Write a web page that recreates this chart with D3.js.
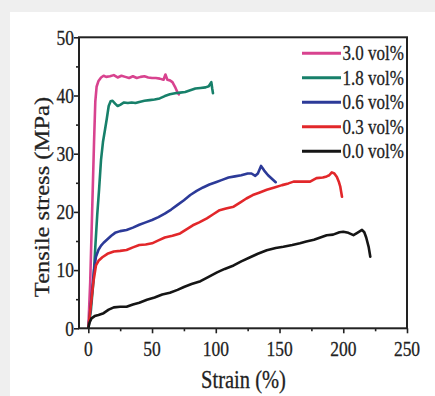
<!DOCTYPE html>
<html>
<head>
<meta charset="utf-8">
<script src="https://cdn.jsdelivr.net/npm/d3@7"></script>
<style>
  html, body { margin: 0; padding: 0; background: #efefef; }
  svg { display: block; }
  text { font-family: "Liberation Serif", "Times New Roman", serif; fill: #222; stroke: #222; stroke-width: 0.25px; }
</style>
</head>
<body>
<svg id="chart" width="435" height="396"></svg>
<script>
// Stress-strain curves for each filler loading: [strain %, stress MPa]
const series = ["3.0 vol%", "1.8 vol%", "0.6 vol%", "0.3 vol%", "0.0 vol%"];
const colors = ["#d8438f", "#17806a", "#2c3a98", "#e2272a", "#151515"];

const curve30 = [[0,0],[1.5,8],[3,20],[4.5,32],[5.5,39],[6.5,41.5],[8,42.5],[10,43.1],[12,43.4],[14,43.2],
  [17,43.3],[20,43.5],[23,43.1],[26,43.4],[29,43.2],[32,43.0],[35,43.3],[38,43.0],[41,43.2],[44,43.3],
  [47,43.1],[50,43.0],[53,43.0],[56,42.9],[59,42.7],[60.5,43.6],[62,42.7],[64,42.6],[66,42.3],[68,41.5],
  [70,40.5],[71,40.2]];
const curve18 = [[0,0],[2,3],[4,8],[5.5,14],[7,19.5],[8.5,24],[10,29],[11.5,32],[13,34],[14.5,36],
  [16,38.2],[17.5,39],[19,39.1],[21,38.6],[23,38.2],[25,38.4],[28,38.8],[31,38.7],[34,38.8],[37,38.7],
  [40,38.9],[44,39.1],[48,39.2],[52,39.3],[56,39.5],[60,39.9],[64,40.2],[68,40.4],[72,40.5],[76,40.6],
  [80,40.9],[84,41.2],[88,41.3],[92,41.4],[94.5,41.6],[96.5,42.3],[97.2,41.2],[97.8,40.4]];
const curve06 = [[0,0],[1.5,3],[3,6.5],[4.5,10],[6,12.3],[8,13.5],[10,14.2],[12,14.7],[15,15.3],[18,15.9],
  [21,16.4],[25,16.7],[30,16.9],[35,17.3],[40,17.8],[45,18.2],[50,18.6],[55,19.1],[60,19.7],[65,20.4],
  [70,21.2],[75,22.0],[80,22.9],[85,23.6],[90,24.2],[95,24.7],[100,25.1],[105,25.5],[110,25.9],[115,26.1],
  [120,26.3],[125,26.6],[128,26.6],[131,26.2],[133,26.6],[135.5,27.9],[138,27.1],[141,26.3],[144,25.7],[147,25.1]];
const curve03 = [[0,0],[2,4],[4,8],[6,10.8],[8,11.6],[11,12.2],[15,12.8],[20,13.2],[25,13.3],[30,13.45],
  [35,13.9],[40,14.3],[45,14.4],[50,14.6],[55,15.1],[60,15.6],[66,15.9],[72,16.3],[77,17.0],[82,17.7],
  [87,18.2],[93,18.9],[98,19.6],[103,20.3],[108,20.6],[114,20.9],[119,21.6],[124,22.3],[129,22.9],[134,23.3],
  [140,23.8],[146,24.2],[152,24.6],[157,24.9],[161,25.2],[167,25.2],[174,25.2],[179,25.8],[184,25.9],[187,26.1],
  [189,26.3],[191,26.8],[193,26.6],[195,26.0],[196.5,25.2],[197.6,24.4],[199,22.6]];
const curve00 = [[0,0],[1,1],[2.5,1.7],[5,2.1],[8,2.3],[12,2.6],[16,3.2],[20,3.6],[25,3.7],[30,3.7],
  [35,4.1],[40,4.4],[46,4.9],[52,5.3],[58,5.8],[64,6.1],[70,6.6],[75,7.1],[81,7.6],[88,8.1],
  [94,8.8],[101,9.6],[107,10.2],[114,10.8],[120,11.5],[127,12.2],[133,12.8],[140,13.4],[147,13.8],[153,14.0],
  [160,14.3],[166,14.6],[171,14.9],[177,15.2],[182,15.6],[187,16.0],[192,16.1],[197,16.5],[200,16.6],[204,16.4],
  [208,16.0],[211,16.4],[214.7,16.9],[216.5,16.5],[218,15.6],[219.9,14.0],[221.2,12.3]];
const curves = [curve30, curve18, curve06, curve03, curve00];

const xTicks = [0, 50, 100, 150, 200, 250];
const xMinor = [25, 75, 125, 175, 225];
const yTicks = [0, 10, 20, 30, 40, 50];
const yMinor = [5, 15, 25, 35, 45];

const svg = d3.select("#chart");

// white card on the light grey page
svg.append("rect").attr("x", 10).attr("y", 12).attr("width", 425).attr("height", 384).attr("fill", "#ffffff");

const L = 79, R = 407, T = 37.3, B = 328.3;
const x = d3.scaleLinear().domain([-7.3, 250]).range([L, R]);
const y = d3.scaleLinear().domain([0, 50]).range([B, T]);

svg.append("defs").append("clipPath").attr("id", "plotclip")
  .append("rect").attr("x", L).attr("y", T).attr("width", R - L).attr("height", B - T);

// curves
const line = d3.line().x(d => x(d[0])).y(d => y(d[1])).curve(d3.curveLinear);
const plot = svg.append("g").attr("clip-path", "url(#plotclip)");
plot.selectAll("path.curve").data(curves).join("path")
  .attr("class", "curve")
  .attr("d", line)
  .attr("fill", "none")
  .attr("stroke", (d, i) => colors[i])
  .attr("stroke-width", 2.6)
  .attr("stroke-linejoin", "round")
  .attr("stroke-linecap", "round");

// legend
const legendRowY = [53.3, 77.8, 102.3, 126.8, 151.3];
const leg = svg.append("g").attr("clip-path", "url(#plotclip)");
series.forEach((name, i) => {
  leg.append("line").attr("x1", 302).attr("x2", 341)
    .attr("y1", legendRowY[i]).attr("y2", legendRowY[i])
    .attr("stroke", colors[i]).attr("stroke-width", 3);
  leg.append("text")
    .attr("transform", `translate(342.5,${legendRowY[i]}) scale(1,1.2)`)
    .attr("dy", "0.35em")
    .style("font-size", "17px")
    .text(name);
});

// axes (major ticks outward, minor ticks shorter)
const axisStyle = g => {
  g.select(".domain").remove();
  g.selectAll("line").attr("stroke", "#222").attr("stroke-width", 1.6);
};
svg.append("g").attr("transform", `translate(0,${B})`)
  .call(d3.axisBottom(x).tickValues(xTicks).tickSize(5).tickFormat("")).call(axisStyle);
svg.append("g").attr("transform", `translate(0,${B})`)
  .call(d3.axisBottom(x).tickValues(xMinor).tickSize(3).tickFormat("")).call(axisStyle);
svg.append("g").attr("transform", `translate(${L},0)`)
  .call(d3.axisLeft(y).tickValues(yTicks).tickSize(5).tickFormat("")).call(axisStyle);
svg.append("g").attr("transform", `translate(${L},0)`)
  .call(d3.axisLeft(y).tickValues(yMinor).tickSize(3).tickFormat("")).call(axisStyle);

// frame
svg.append("rect").attr("x", L).attr("y", T).attr("width", R - L).attr("height", B - T)
  .attr("fill", "none").attr("stroke", "#222").attr("stroke-width", 2);

// tick labels
svg.selectAll("text.xt").data(xTicks).join("text").attr("class", "xt")
  .attr("transform", d => `translate(${x(d)},${B + 20.5}) scale(1,1.2)`)
  .attr("dy", "0.35em").attr("text-anchor", "middle")
  .style("font-size", "17.5px").text(d => d);
svg.selectAll("text.yt").data(yTicks).join("text").attr("class", "yt")
  .attr("transform", d => `translate(74,${y(d)}) scale(1,1.2)`)
  .attr("dy", "0.35em").attr("text-anchor", "end")
  .style("font-size", "17.5px").text(d => d);

// axis titles
svg.append("text")
  .attr("transform", `translate(243.5,379) scale(1,1.2)`)
  .attr("dy", "0.35em").attr("text-anchor", "middle")
  .style("font-size", "20.5px").text("Strain (%)");
svg.append("text")
  .attr("transform", `translate(42,197) scale(1,1.2) rotate(-90)`)
  .attr("dy", "0.35em").attr("text-anchor", "middle")
  .style("font-size", "20.5px").text("Tensile stress (MPa)");
</script>
</body>
</html>
